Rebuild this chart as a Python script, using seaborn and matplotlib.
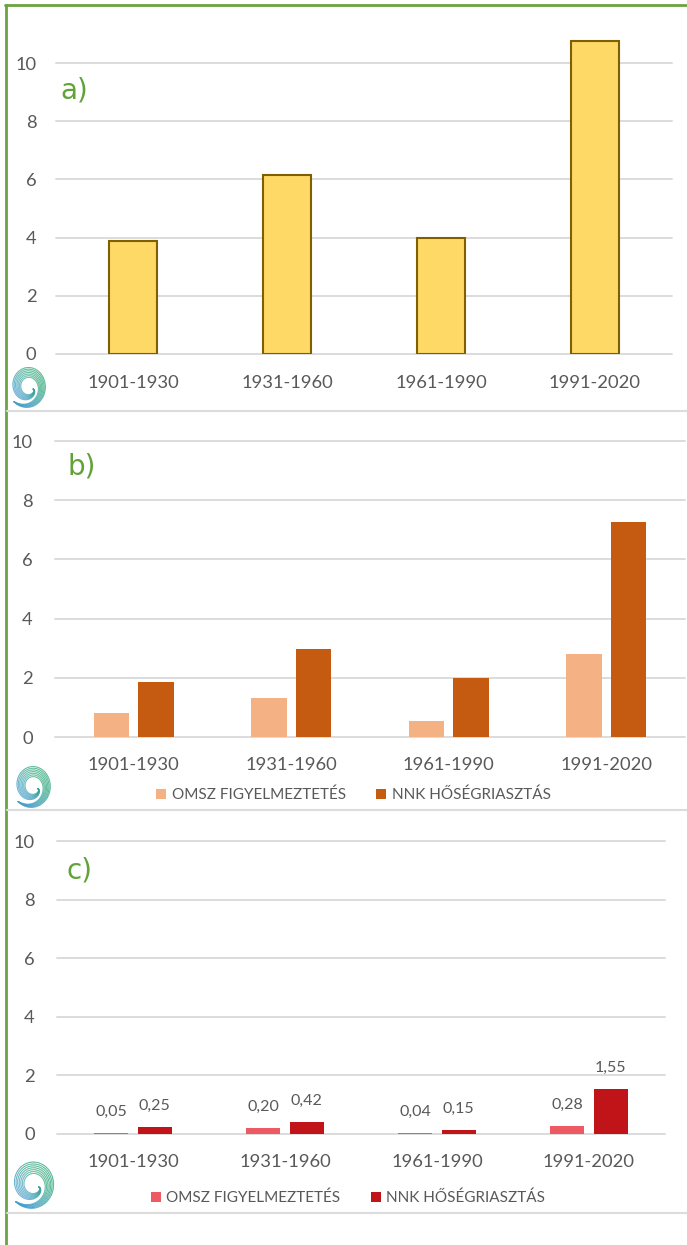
import numpy as np
import pandas as pd
import matplotlib
matplotlib.use("Agg")
import matplotlib.pyplot as plt
import seaborn as sns
from matplotlib.collections import LineCollection
from matplotlib.colors import to_rgb
from matplotlib.lines import Line2D

periods = ["1901-1930", "1931-1960", "1961-1990", "1991-2020"]
series_names = ["OMSZ FIGYELMEZTETÉS", "NNK HŐSÉGRIASZTÁS"]
yticks = [0, 2, 4, 6, 8, 10]

total_days = [3.9, 6.15, 3.97, 10.75]
omsz_b = [0.8, 1.33, 0.55, 2.82]
nnk_b = [1.85, 2.98, 2.0, 7.27]
omsz_c = [0.05, 0.20, 0.04, 0.28]
nnk_c = [0.25, 0.42, 0.15, 1.55]

W, H = 687, 1245
TEXT = "#595959"
GRID = "#dcdcdc"
GREEN = "#62a339"


def px_axes(fig, left, right, y0, y10):
	# y0 and y10 are the pixel rows of the 0 and 10 gridlines
	unit = (y0 - y10) / 10
	top = y0 - 11 * unit
	ax = fig.add_axes([left / W, 1 - y0 / H, (right - left) / W, (y0 - top) / H])
	return ax


def style_axes(ax, ypad, xpad):
	ax.set_xlim(-0.5, 3.5)
	ax.set_ylim(0, 11)
	ax.set_yticks(yticks)
	ax.set_xlabel("")
	ax.set_ylabel("")
	ax.set_axisbelow(True)
	ax.grid(axis="y", color=GRID, lw=1.4)
	ax.grid(axis="x", visible=False)
	for g in ax.get_ygridlines():
		g.set_clip_on(False)
	sns.despine(ax=ax, left=True, bottom=True)
	ax.tick_params(axis="y", length=0, pad=ypad, labelsize=13.2, labelcolor=TEXT)
	ax.tick_params(axis="x", length=0, pad=xpad, labelsize=13.2, labelcolor=TEXT)
	ax.patch.set_alpha(0)


def grouped(ax, omsz, nnk, colors):
	df = pd.DataFrame({
		"period": periods * 2,
		"value": omsz + nnk,
		"series": [series_names[0]] * 4 + [series_names[1]] * 4,
	})
	sns.barplot(
		data=df,
		x="period",
		y="value",
		hue="series",
		palette=colors,
		width=0.571,
		gap=0.21,
		saturation=1,
		linewidth=0,
		ax=ax
	)


def place_legend(fig, ax, cx, cy):
	sns.move_legend(
		ax,
		"center",
		bbox_to_anchor=(cx / W, 1 - cy / H),
		bbox_transform=fig.transFigure,
		ncol=2,
		title=None,
		frameon=False,
		fontsize=11,
		labelcolor=TEXT,
		handlelength=0.65,
		handleheight=0.65,
		handletextpad=0.35,
		columnspacing=2.0,
		borderpad=0,
		borderaxespad=0
	)


def draw_logo(fig, x0, x1, y0, y1):
	ax = fig.add_axes([x0 / W, 1 - y1 / H, (x1 - x0) / W, (y1 - y0) / H])
	ax.set_xlim(-1.0, 1.0)
	ax.set_ylim(-1.0, 1.0)
	ax.axis("off")
	green = np.array(to_rgb("#2fa97c"))
	blue = np.array(to_rgb("#459fcb"))
	t = np.linspace(0, 1, 200)
	theta = np.radians(-25 - 470 * t)
	outer = 0.3 + 0.7 * t ** 0.4
	band = 0.45 * np.sin(np.pi * t) ** 0.8
	for k in np.linspace(0, 1, 7):
		r = outer - band * k
		x = r * np.cos(theta) - 0.1
		y = r * np.sin(theta)
		pts = np.column_stack([x, y])
		segs = np.stack([pts[:-1], pts[1:]], axis=1)
		mix = np.clip((x[:-1] + y[:-1] + 0.9) / 1.5, 0, 1)[:, None]
		lc = LineCollection(segs, colors=blue * (1 - mix) + green * mix, linewidths=0.7)
		ax.add_collection(lc)


def frame(fig):
	fig.add_artist(Line2D([6 / W, 6 / W], [0, 1 - 5 / H], color="#6aa341", lw=2))
	fig.add_artist(Line2D([5 / W, 1], [1 - 5 / H, 1 - 5 / H], color="#6aa341", lw=2))
	for y in [411, 810, 1213]:
		fig.add_artist(Line2D([7 / W, 1], [1 - y / H, 1 - y / H], color=GRID, lw=1.5))


def main():
	sns.set_theme(style="white")
	plt.rcParams["font.family"] = ["Lato", "DejaVu Sans"]
	fig = plt.figure(figsize=(W / 100, H / 100), dpi=100)
	frame(fig)

	ax_a = px_axes(fig, 56, 672, 354, 63)
	sns.barplot(
		x=periods,
		y=total_days,
		color="#ffd966",
		edgecolor="#7f6000",
		linewidth=1.5,
		width=0.318,
		saturation=1,
		ax=ax_a
	)
	style_axes(ax_a, 14, 15)

	ax_b = px_axes(fig, 55, 685, 737, 441)
	grouped(ax_b, omsz_b, nnk_b, ["#f4b183", "#c55a11"])
	style_axes(ax_b, 16, 14.5)
	place_legend(fig, ax_b, 353.5, 795)

	ax_c = px_axes(fig, 57, 665, 1134, 841)
	grouped(ax_c, omsz_c, nnk_c, ["#ee5a64", "#c01418"])
	style_axes(ax_c, 16, 14.5)
	place_legend(fig, ax_c, 348, 1198)
	for container, vals in zip(ax_c.containers, [omsz_c, nnk_c]):
		ax_c.bar_label(
			container,
			labels=[f"{v:.2f}".replace(".", ",") for v in vals],
			padding=10,
			fontsize=11.5,
			color=TEXT
		)

	for text, x, y in [("a)", 60, 90), ("b)", 67, 466), ("c)", 67, 870)]:
		fig.text(x / W, 1 - y / H, text, color=GREEN, fontsize=20, family="DejaVu Sans", va="center", ha="left")

	draw_logo(fig, 10, 49, 364, 408)
	draw_logo(fig, 14, 54, 763, 808)
	draw_logo(fig, 11, 58, 1158, 1209)

	fig.savefig("out.png", dpi=100)
	plt.close(fig)


if __name__ == "__main__":
	main()
